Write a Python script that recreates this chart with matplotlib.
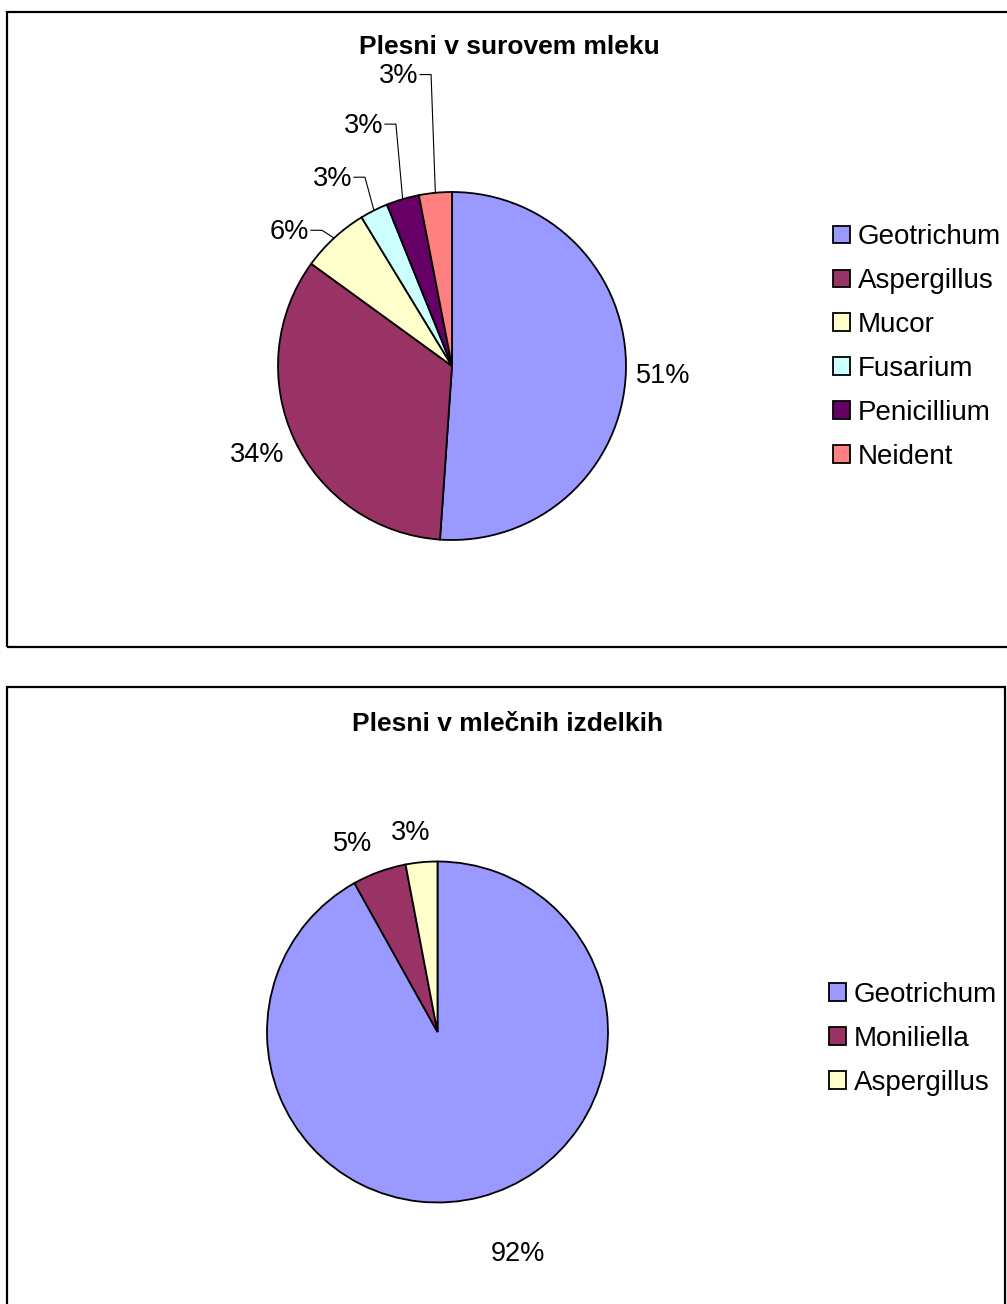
import matplotlib
matplotlib.use("Agg")
import matplotlib.pyplot as plt
from matplotlib.patches import Rectangle
import numpy as np

plt.rcParams["font.family"] = ["Liberation Sans", "DejaVu Sans"]

# Plesni v surovem mleku (delež v %)
surovo_vrste = ["Geotrichum", "Aspergillus", "Mucor", "Fusarium", "Penicillium", "Neident"]
surovo_delez = [51.1, 33.9, 6.3, 2.6, 3.05, 3.05]
surovo_barve = ["#9999FF", "#993366", "#FFFFCC", "#CCFFFF", "#660066", "#FF8080"]

# Plesni v mlečnih izdelkih (delež v %)
izdelki_vrste = ["Geotrichum", "Moniliella", "Aspergillus"]
izdelki_delez = [91.9, 5.1, 3.0]
izdelki_barve = ["#9999FF", "#993366", "#FFFFCC"]

W, H = 1007, 1304
fig = plt.figure(figsize=(W / 100, H / 100), dpi=100)
fig.patch.set_facecolor("white")


def fx(x):
    return x / W


def fy(y):
    return 1 - y / H


def okvir(x0, y0, x1, y1):
    fig.add_artist(Rectangle((fx(x0), fy(y1)), fx(x1) - fx(x0), fy(y0) - fy(y1),
                             transform=fig.transFigure, fill=False,
                             edgecolor="black", linewidth=1.6))


def pita_os(cx, cy, r, obseg=2.2):
    # os, kjer je 1 enota = polmer pite v pikslih
    half = r * obseg
    ax = fig.add_axes([fx(cx - half), fy(cy + half), 2 * half / W, 2 * half / H])
    return ax, obseg


def narisi(ax, obseg, delez, barve):
    wedges, texts, auto = ax.pie(delez, colors=barve, startangle=90, counterclock=False,
                                 autopct="%.0f%%", pctdistance=1.2,
                                 wedgeprops=dict(edgecolor="black", linewidth=1.3),
                                 textprops=dict(fontsize=19.5))
    ax.set_xlim(-obseg, obseg)
    ax.set_ylim(-obseg, obseg)
    ax.set_aspect("equal")
    ax.axis("off")
    return wedges, auto


def legenda(wedges, vrste, x, y):
    fig.legend(wedges, vrste, loc="center left", bbox_to_anchor=(fx(x), fy(y)),
               bbox_transform=fig.transFigure, frameon=False, fontsize=20,
               handlelength=0.6, handleheight=0.6, handletextpad=0.3,
               labelspacing=0.645, borderaxespad=0)


# zgornji graf
okvir(7, 12, 1015, 647)
ax1, s1 = pita_os(452, 366, 174)
w1, t1 = narisi(ax1, s1, surovo_delez, surovo_barve)
fig.text(fx(509), fy(47), "Plesni v surovem mleku", fontsize=19, fontweight="bold",
         ha="center", va="center")

# položaji oznak (v enotah polmera); pri majhnih deležih z vodilno črto
oznake1 = [(1.213, -0.06, False), (-1.121, -0.51, False), (-0.822, 0.77, True),
           (-0.575, 1.075, True), (-0.397, 1.38, True), (-0.195, 1.665, True)]
for w, t, (lx, ly, vodilo) in zip(w1, t1, oznake1):
    t.set_position((lx, ly))
    t.set_va("center")
    if vodilo:
        t.set_ha("right")
        kot = np.deg2rad((w.theta1 + w.theta2) / 2)
        px, py = np.cos(kot), np.sin(kot)
        ex = lx + 13 / 174
        ax1.plot([lx + 2 / 174, ex, px], [ly + 0.01, ly + 0.01, py],
                 color="black", linewidth=0.8)
    else:
        t.set_ha("center")

legenda(w1, surovo_vrste, 822, 347)

# spodnji graf
okvir(7, 687, 1005, 1320)
ax2, s2 = pita_os(437.5, 1032, 170.5)
w2, t2 = narisi(ax2, s2, izdelki_delez, izdelki_barve)
fig.text(fx(508), fy(724), "Plesni v mlečnih izdelkih", fontsize=19, fontweight="bold",
         ha="center", va="center")

oznake2 = [(0.47, -1.30), (-0.496, 1.10), (-0.156, 1.17)]
for t, (lx, ly) in zip(t2, oznake2):
    t.set_position((lx, ly))
    t.set_ha("center")
    t.set_va("center")

legenda(w2, izdelki_vrste, 818, 1039)

fig.savefig("out.png", dpi=100)
